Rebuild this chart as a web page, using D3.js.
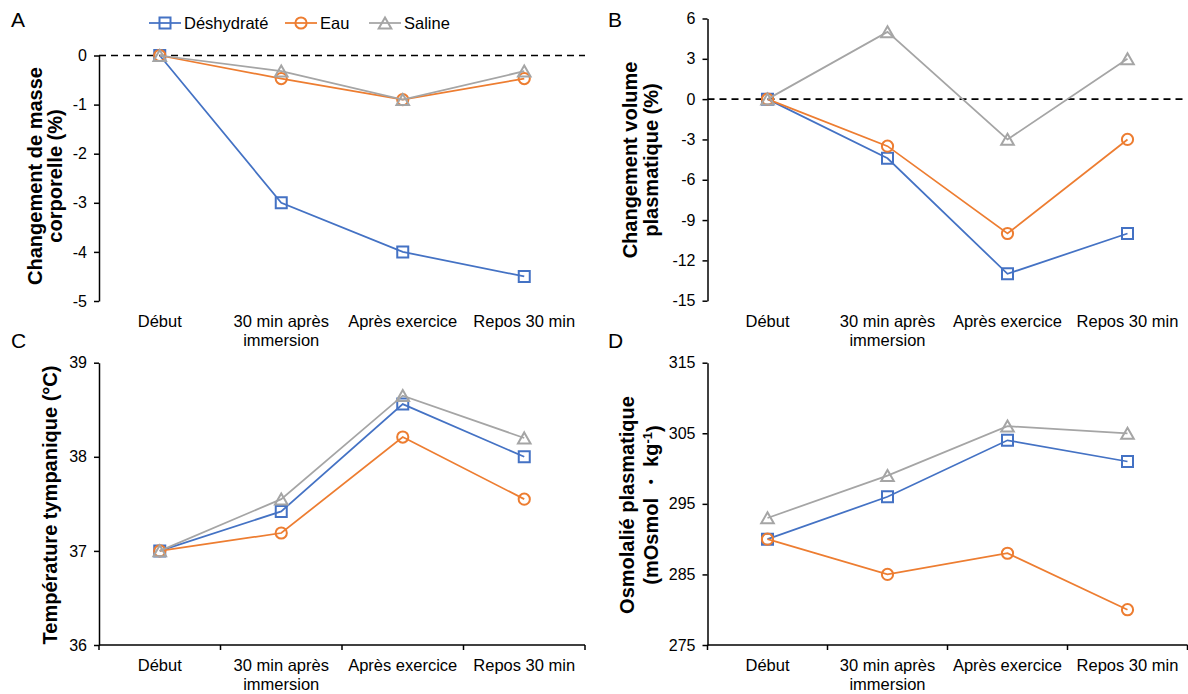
<!DOCTYPE html>
<html>
<head>
<meta charset="utf-8">
<script src="https://cdn.jsdelivr.net/npm/d3@7"></script>
<style>
  body { margin: 0; background: #fff; }
  svg text { font-family: "Liberation Sans", Arial, sans-serif; fill: #000; }
</style>
</head>
<body>
<svg id="chart" width="1188" height="694"></svg>
<script>
// Time points (a "\n" marks a line break in the axis label)
const categories = ["Début", "30 min après\nimmersion", "Après exercice", "Repos 30 min"];
const seriesNames = ["Déshydraté", "Eau", "Saline"];

// A: body mass change (%)
const massDeshydrate = [0, -3.0, -4.0, -4.5];
const massEau        = [0, -0.47, -0.9, -0.47];
const massSaline     = [0, -0.32, -0.9, -0.32];
const massTicks      = [0, -1, -2, -3, -4, -5];

// B: plasma volume change (%)
const volDeshydrate = [0, -4.4, -13, -10];
const volEau        = [0, -3.5, -10, -3];
const volSaline     = [0, 5, -3, 3];
const volTicks      = [6, 3, 0, -3, -6, -9, -12, -15];

// C: tympanic temperature (°C)
const tempDeshydrate = [37.0, 37.42, 38.56, 38.0];
const tempEau        = [37.0, 37.19, 38.21, 37.55];
const tempSaline     = [37.0, 37.55, 38.65, 38.2];
const tempTicks      = [36, 37, 38, 39];

// D: plasma osmolality (mOsmol·kg-1)
const osmoDeshydrate = [290, 296, 304, 301];
const osmoEau        = [290, 285, 288, 280];
const osmoSaline     = [293, 299, 306, 305];
const osmoTicks      = [275, 285, 295, 305, 315];

const colors = ["#4472C4", "#ED7D31", "#A5A5A5"];
const symbols = ["square", "circle", "triangle"];

const svg = d3.select("#chart");

function markerPath(kind) {
  if (kind === "square") return "M-5.5,-5.5H5.5V5.5H-5.5Z";
  if (kind === "circle") return d3.arc()({innerRadius: 0, outerRadius: 5.6, startAngle: 0, endAngle: 2 * Math.PI});
  return "M0,-5.6L6.3,5.4L-6.3,5.4Z";
}

function drawMarker(g, kind, x, y, color) {
  g.append("path")
    .attr("d", markerPath(kind))
    .attr("transform", `translate(${x},${y})`)
    .attr("fill", "none")
    .attr("stroke", color)
    .attr("stroke-width", 2);
}

const panels = [
  { letter: "A", lx: 11, ly: 27, x0: 99, x1: 585, yTop: 55.5, yBot: 301,
    domain: [-5, 0], ticks: massTicks, zeroLine: true,
    series: [massDeshydrate, massEau, massSaline],
    label: ["Changement de masse", "corporelle (%)"], labelX: [35, 55], labelY: 176 },
  { letter: "B", lx: 608, ly: 27, x0: 707.5, x1: 1187.5, yTop: 18.5, yBot: 300.7,
    domain: [-15, 6], ticks: volTicks, zeroLine: true,
    series: [volDeshydrate, volEau, volSaline],
    label: ["Changement volume", "plasmatique (%)"], labelX: [630, 651], labelY: 160 },
  { letter: "C", lx: 11, ly: 348, x0: 99, x1: 585, yTop: 362.7, yBot: 645,
    domain: [36, 39], ticks: tempTicks, zeroLine: false,
    series: [tempDeshydrate, tempEau, tempSaline],
    label: ["Température tympanique (°C)"], labelX: [50], labelY: 505 },
  { letter: "D", lx: 608, ly: 348, x0: 707.5, x1: 1187.5, yTop: 362.7, yBot: 645,
    domain: [275, 315], ticks: osmoTicks, zeroLine: false,
    series: [osmoDeshydrate, osmoEau, osmoSaline],
    label: ["Osmolalié plasmatique", "(mOsmol  ・  kg"], labelX: [627, 651], labelY: 505, superscript: "-1" }
];

panels.forEach(p => {
  const g = svg.append("g");
  const x = d3.scaleBand().domain(categories).range([p.x0, p.x1]).padding(0);
  const y = d3.scaleLinear().domain(p.domain).range([p.yBot, p.yTop]);
  const cx = c => x(c) + x.bandwidth() / 2;

  // panel letter
  g.append("text").attr("x", p.lx).attr("y", p.ly)
    .style("font-size", "21px").text(p.letter);

  // y axis
  const yAxis = d3.axisLeft(y).tickValues(p.ticks).tickSize(5).tickSizeOuter(0).tickPadding(7)
    .tickFormat(d3.format("d"));
  const ya = g.append("g").attr("transform", `translate(${p.x0},0)`).call(yAxis);
  ya.select(".domain").attr("stroke", "#000").attr("stroke-width", 1.5);
  ya.selectAll(".tick line").attr("stroke", "#000").attr("stroke-width", 1.5);
  ya.selectAll(".tick text").style("font-size", "16px")
    .style("font-family", '"Liberation Sans", Arial, sans-serif')
    .attr("fill", "#111")
    .text(d => d < 0 ? "-" + Math.abs(d) : d);

  if (p.zeroLine) {
    g.append("line")
      .attr("x1", p.x0).attr("x2", p.x1)
      .attr("y1", y(0)).attr("y2", y(0))
      .attr("stroke", "#000").attr("stroke-width", 1.7)
      .attr("stroke-dasharray", "7,5");
  } else {
    const bounds = categories.map(c => x(c)).concat([p.x1]);
    g.append("line")
      .attr("x1", p.x0).attr("x2", p.x1)
      .attr("y1", p.yBot).attr("y2", p.yBot)
      .attr("stroke", "#000").attr("stroke-width", 1.5);
    g.selectAll(null).data(bounds).enter().append("line")
      .attr("x1", d => d).attr("x2", d => d)
      .attr("y1", p.yBot).attr("y2", p.yBot + 5)
      .attr("stroke", "#000").attr("stroke-width", 1.5);
  }

  // category labels
  categories.forEach(c => {
    const lines = c.split("\n");
    const t = g.append("text")
      .attr("x", cx(c)).attr("y", p.yBot + 26)
      .attr("text-anchor", "middle")
      .style("font-size", "16.5px");
    lines.forEach((ln, i) => {
      t.append("tspan").attr("x", cx(c)).attr("dy", i === 0 ? 0 : 19).text(ln);
    });
  });

  // y-axis title
  p.label.forEach((ln, i) => {
    const t = g.append("text")
      .attr("transform", `translate(${p.labelX[i]},${p.labelY}) rotate(-90)`)
      .attr("text-anchor", "middle")
      .attr("dy", "0.36em")
      .style("font-size", "20px").style("font-weight", "bold");
    t.append("tspan").text(ln);
    if (p.superscript && i === p.label.length - 1) {
      t.append("tspan").attr("dy", "-0.45em").style("font-size", "13px").text(p.superscript);
      t.append("tspan").attr("dy", "0.45em").text(")");
    }
  });

  // series lines and markers
  p.series.forEach((vals, si) => {
    const pts = vals.map((v, i) => [cx(categories[i]), y(v)]);
    g.append("path")
      .attr("d", d3.line()(pts))
      .attr("fill", "none")
      .attr("stroke", colors[si])
      .attr("stroke-width", 1.75);
    pts.forEach(pt => drawMarker(g, symbols[si], pt[0], pt[1], colors[si]));
  });
});

// legend
const legendX = [165, 301, 385];
const legend = svg.append("g");
seriesNames.forEach((name, i) => {
  legend.append("line")
    .attr("x1", legendX[i] - 16).attr("x2", legendX[i] + 16)
    .attr("y1", 23).attr("y2", 23)
    .attr("stroke", colors[i]).attr("stroke-width", 1.75);
  drawMarker(legend, symbols[i], legendX[i], 23, colors[i]);
  legend.append("text")
    .attr("x", legendX[i] + 19).attr("y", 23).attr("dy", "0.35em")
    .style("font-size", "16.5px").text(name);
});
</script>
</body>
</html>
